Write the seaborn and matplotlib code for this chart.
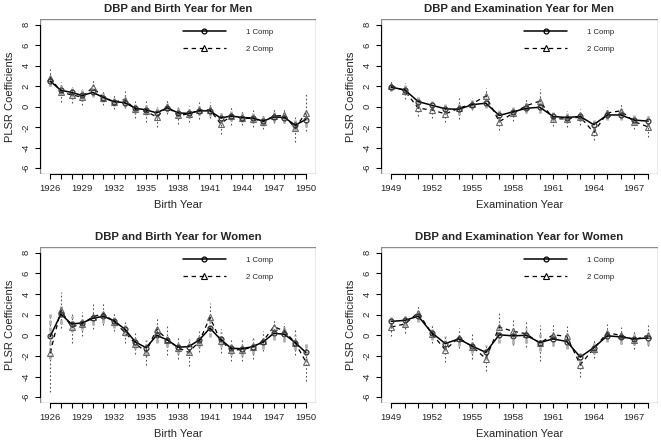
import numpy as np
import pandas as pd
import matplotlib
matplotlib.use("Agg")
import matplotlib.pyplot as plt
from matplotlib.patches import Rectangle
import seaborn as sns

sns.set_style("white")
plt.rcParams['font.family'] = ['Liberation Sans', 'DejaVu Sans']

birth_years = list(range(1926, 1951))
exam_years = list(range(1949, 1969))

# DBP and Birth Year for Men
bm_one = [2.5, 1.6, 1.4, 1.1, 1.4, 0.9, 0.5, 0.4, -0.15, -0.3, -0.6, -0.1, -0.6,
          -0.65, -0.4, -0.4, -1.1, -0.9, -1.05, -1.1, -1.4, -1.0, -1.05, -1.8, -1.25]
bm_two = [2.85, 1.45, 1.15, 0.95, 1.9, 0.9, 0.45, 0.7, -0.25, -0.45, -1.0, 0.0, -0.85,
          -0.7, -0.35, -0.3, -1.65, -0.9, -1.1, -1.15, -1.45, -0.9, -0.85, -2.1, -0.6]
bm_one_err = [0.45, 0.5, 0.45, 0.5, 0.45, 0.4, 0.4, 0.45, 0.45, 0.5, 0.5, 0.45, 0.5,
              0.45, 0.45, 0.5, 0.55, 0.45, 0.45, 0.45, 0.5, 0.45, 0.5, 0.6, 0.7]
bm_two_err = [0.85, 0.95, 0.8, 0.8, 0.7, 0.7, 0.7, 0.8, 0.8, 1.0, 0.95, 0.75, 0.85,
              0.75, 0.8, 0.8, 1.05, 0.85, 0.7, 0.8, 0.75, 0.7, 0.7, 1.3, 1.8]

# DBP and Examination Year for Men
em_one = [1.9, 1.65, 0.5, 0.15, -0.2, -0.25, 0.2, 0.35, -0.85, -0.5, -0.15, -0.05,
          -0.95, -1.05, -0.95, -1.75, -0.8, -0.8, -1.3, -1.4]
em_two = [2.05, 1.55, -0.15, -0.3, -0.7, -0.15, 0.3, 1.05, -1.45, -0.65, 0.1, 0.55,
          -1.15, -1.2, -1.0, -2.5, -0.6, -0.4, -1.45, -1.95]
em_one_err = [0.35, 0.45, 0.45, 0.45, 0.5, 0.55, 0.45, 0.5, 0.5, 0.45, 0.5, 0.6,
              0.45, 0.45, 0.45, 0.5, 0.45, 0.5, 0.45, 0.55]
em_two_err = [0.5, 0.75, 0.8, 0.75, 0.8, 1.0, 0.6, 0.8, 0.85, 0.75, 0.7, 1.15,
              0.75, 0.75, 0.8, 0.75, 0.6, 0.7, 0.75, 1.0]

# DBP and Birth Year for Women
bw_one = [-0.1, 2.05, 1.1, 1.2, 1.65, 1.85, 1.4, 0.6, -0.65, -1.2, 0.0, -0.45, -1.15,
          -1.1, -0.45, 0.7, -0.4, -1.25, -1.3, -1.1, -0.65, 0.2, 0.1, -0.7, -1.65]
bw_two = [-1.7, 2.45, 0.8, 1.1, 1.8, 2.1, 1.3, 0.3, -0.8, -1.6, 0.6, -0.45, -1.2,
          -1.65, -0.6, 1.75, -0.55, -1.4, -1.4, -1.15, -0.55, 0.85, 0.4, -0.7, -2.55]
bw_one_err = [2.2, 1.0, 0.8, 0.7, 0.65, 0.7, 0.7, 0.7, 0.7, 0.75, 0.75, 0.7, 0.7,
              0.7, 0.7, 0.85, 0.75, 0.7, 0.7, 0.7, 0.7, 0.7, 0.7, 0.75, 0.9]
bw_two_err = [3.8, 1.75, 1.5, 1.2, 1.2, 1.1, 0.9, 1.0, 1.0, 1.3, 1.05, 1.5, 1.1,
              1.3, 1.0, 1.35, 1.2, 1.1, 1.1, 1.1, 1.0, 0.7, 0.75, 1.25, 1.85]

# DBP and Examination Year for Women
ew_one = [1.35, 1.45, 1.85, 0.25, -0.8, -0.35, -1.05, -1.65, 0.05, -0.05, 0.0,
          -0.7, -0.35, -0.6, -2.1, -1.2, -0.05, -0.15, -0.35, -0.25]
ew_two = [0.8, 1.1, 2.2, 0.15, -1.4, -0.25, -1.1, -2.25, 0.8, 0.4, 0.15, -0.75,
          0.05, -0.1, -2.85, -1.3, 0.25, 0.0, -0.45, 0.0]
ew_one_err = [0.6, 0.6, 0.6, 0.7, 0.75, 0.7, 0.7, 0.7, 0.8, 0.75, 0.7, 0.8,
              0.7, 0.7, 0.65, 0.6, 0.6, 0.65, 0.6, 0.7]
ew_two_err = [0.9, 0.9, 0.75, 0.9, 1.2, 1.0, 1.2, 1.25, 1.4, 1.3, 1.25, 1.75,
              1.1, 1.0, 1.15, 0.85, 0.8, 0.8, 0.9, 1.0]

panels = [
    ("DBP and Birth Year for Men", "Birth Year", birth_years, bm_one, bm_two, bm_one_err, bm_two_err),
    ("DBP and Examination Year for Men", "Examination Year", exam_years, em_one, em_two, em_one_err, em_two_err),
    ("DBP and Birth Year for Women", "Birth Year", birth_years, bw_one, bw_two, bw_one_err, bw_two_err),
    ("DBP and Examination Year for Women", "Examination Year", exam_years, ew_one, ew_two, ew_one_err, ew_two_err),
]

fig = plt.figure(figsize=(6.61, 4.40), dpi=100)
W, H = 661.0, 440.0
boxes = [(40, 19, 276, 155), (381, 19, 277, 155), (40, 247, 276, 156), (381, 247, 277, 156)]

for (title, xlab, years, one, two, one_err, two_err), (bx, by, bw, bh) in zip(panels, boxes):
    ax = fig.add_axes([bx / W, 1 - (by + bh) / H, bw / W, bh / H])
    years = np.array(years)
    one, two = np.array(one), np.array(two)
    one_err, two_err = np.array(one_err), np.array(two_err)

    # confidence ranges
    ax.vlines(years, two - two_err, two + two_err, colors="#555555",
              linestyles=(0, (1.5, 2)), linewidth=0.8, zorder=1)
    ax.vlines(years, one - one_err, one + one_err, colors="#b0b0b0",
              linestyles=(0, (1.5, 1)), linewidth=2.0, zorder=1.5)

    df = pd.DataFrame({"year": years, "one": one, "two": two})
    sns.lineplot(data=df, x="year", y="one", ax=ax, color="black", linewidth=1.1,
                 marker="o", markersize=3.5, markerfacecolor="none",
                 markeredgecolor="#333333", markeredgewidth=0.9,
                 label="1 Comp", zorder=3, clip_on=False)
    sns.lineplot(data=df, x="year", y="two", ax=ax, color="black", linewidth=0.9,
                 linestyle=(0, (3.5, 3)), marker="^", markersize=5,
                 markerfacecolor="none", markeredgecolor="#666666",
                 markeredgewidth=0.8, label="2 Comp", zorder=2, clip_on=False)

    pad = 0.04 * (years[-1] - years[0])
    ax.set_xlim(years[0] - pad, years[-1] + pad)
    ax.set_ylim(-6 - 0.56, 8 + 0.56)
    ax.set_xticks(years, minor=True)
    ax.set_xticks(years[::3])
    ax.set_xticklabels([str(y) for y in years[::3]])
    ax.set_yticks(range(-6, 9, 2))
    ax.set_yticklabels([str(v) for v in range(-6, 9, 2)], rotation=90, va="center")

    for s in ["top", "right"]:
        ax.spines[s].set_visible(False)
    ax.spines["bottom"].set_bounds(years[0], years[-1])
    ax.spines["left"].set_bounds(-6, 8)
    for s in ["bottom", "left"]:
        ax.spines[s].set_color("black")
        ax.spines[s].set_linewidth(0.8)
    ax.add_patch(Rectangle((0, 0), 1, 1, transform=ax.transAxes, fill=False,
                           edgecolor="#8c8c8c", linewidth=1.0, zorder=0.5))

    ax.tick_params(axis="both", which="both", direction="out", length=3.5,
                   width=0.8, color="black", labelsize=6.8, pad=3.5,
                   bottom=True, left=True)
    ax.tick_params(axis="y", pad=3)

    ax.set_xlabel(xlab, fontsize=8, labelpad=5)
    ax.set_ylabel("PLSR Coefficients", fontsize=8, labelpad=5)
    ax.set_title(title, fontsize=8.2, fontweight="bold", pad=5)

    leg = ax.legend(loc="upper left", bbox_to_anchor=(0.518, 0.94), frameon=False,
                    fontsize=5.6, handlelength=5.5, handletextpad=2.6,
                    labelspacing=1.25, borderpad=0, borderaxespad=0, numpoints=1)
    for h in leg.legend_handles:
        h.set_markeredgecolor("black")

fig.savefig("out.png", dpi=100)
